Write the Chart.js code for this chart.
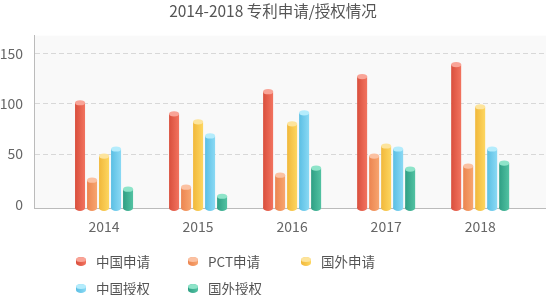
<!DOCTYPE html>
<html>
<head>
<meta charset="utf-8">
<script src="https://cdn.jsdelivr.net/npm/chart.js@4/dist/chart.umd.min.js"></script>
<style>
  html, body { margin: 0; padding: 0; background: #fff; }
  #wrap { position: relative; width: 546px; height: 295px; }
  #chart { position: absolute; left: 0; top: 0; }
  .legend { position: absolute; left: 0; top: 0; width: 546px; height: 295px; pointer-events: none;
            font-family: "Noto Sans CJK SC", "Noto Sans", sans-serif; font-size: 13.5px; color: #555; }
  .item { position: absolute; height: 18px; line-height: 18px; white-space: nowrap; }
  .icon { position: absolute; left: 0; top: 5px; width: 10px; height: 9px; border-radius: 5px / 3px; }
  .cap { position: absolute; left: 0; top: 0; width: 10px; height: 5px; border-radius: 50%; }
  .label { position: absolute; left: 20px; top: 0; }
</style>
</head>
<body>
<div id="wrap">
  <canvas id="chart" width="546" height="295"></canvas>
  <div class="legend" id="legend"></div>
</div>
<script>
// Years on the category axis
const categories = ['2014', '2015', '2016', '2017', '2018'];

// Patent counts per year
const chinaApply   = [101, 90, 112, 127, 139];
const pctApply     = [24, 17, 29, 48, 38];
const foreignApply = [48, 82, 80, 58, 97];
const chinaGrant   = [55, 68, 91, 55, 55];
const foreignGrant = [15, 8, 36, 35, 41];

const seriesNames = ['中国申请', 'PCT申请', '国外申请', '中国授权', '国外授权'];

// Value axis labels
const yTicks = [0, 50, 100, 150];

// Cylinder shading: [left edge, right edge, top cap]
const palette = [
  ['#d94f3d', '#f2735f', '#f9a497'],
  ['#ec8550', '#f7a56f', '#fbc1a2'],
  ['#f1b83b', '#fdd660', '#fde49c'],
  ['#5bbfe4', '#8ad9f4', '#b4ecfc'],
  ['#2f9f84', '#52c2a2', '#8ee4c9']
];

const seriesValues = [chinaApply, pctApply, foreignApply, chinaGrant, foreignGrant];

const datasets = seriesValues.map((vals, s) => ({
  label: seriesNames[s],
  data: vals.map((v, i) => ({ x: i, y: v })),
  backgroundColor: 'rgba(0,0,0,0)',
  borderWidth: 0,
  categoryPercentage: 60 / 94,
  barPercentage: 10 / 12
}));

// Light panel behind the plot
const panelPlugin = {
  id: 'panel',
  beforeDraw(chart) {
    const { ctx, chartArea: a } = chart;
    ctx.save();
    ctx.fillStyle = '#f9f9f9';
    ctx.fillRect(a.left, a.top, a.right - a.left, a.bottom - a.top);
    ctx.restore();
  }
};

// Paints each bar as a shaded cylinder with an elliptical top and bottom
const cylinderPlugin = {
  id: 'cylinders',
  afterDatasetsDraw(chart) {
    const { ctx, chartArea } = chart;
    const base = chartArea.bottom;
    chart.data.datasets.forEach((ds, s) => {
      const meta = chart.getDatasetMeta(s);
      const [c0, c1, cap] = palette[s];
      meta.data.forEach(el => {
        const hw = el.width / 2;
        const cx = el.x;
        const top = el.y;
        const g = ctx.createLinearGradient(cx - hw, 0, cx + hw, 0);
        g.addColorStop(0, c0);
        g.addColorStop(1, c1);
        ctx.save();
        ctx.fillStyle = g;
        ctx.beginPath();
        ctx.ellipse(cx, base, hw, 3, 0, 0, Math.PI * 2);
        ctx.fill();
        ctx.fillRect(cx - hw, top, hw * 2, base - top);
        ctx.fillStyle = cap;
        ctx.beginPath();
        ctx.ellipse(cx, top, hw, 2.6, 0, 0, Math.PI * 2);
        ctx.fill();
        ctx.restore();
      });
    });
  }
};

new Chart(document.getElementById('chart'), {
  type: 'bar',
  data: { datasets },
  plugins: [panelPlugin, cylinderPlugin],
  options: {
    responsive: false,
    animation: false,
    devicePixelRatio: 1,
    layout: { padding: { left: 0, right: 0, top: 0, bottom: 0 } },
    plugins: {
      legend: { display: false },
      tooltip: { enabled: false },
      title: {
        display: true,
        text: '2014-2018 专利申请/授权情况',
        color: '#555',
        font: { family: '"Noto Sans CJK SC", sans-serif', size: 15.5, weight: 'normal', lineHeight: 1.2 },
        padding: { top: 2, bottom: 15 }
      }
    },
    scales: {
      x: {
        type: 'linear',
        min: -0.745,
        max: 4.70,
        offset: false,
        grid: { display: false, drawTicks: false },
        border: { display: true, color: '#bbb', width: 1 },
        afterBuildTicks(scale) { scale.ticks = categories.map((_, i) => ({ value: i })); },
        afterFit(scale) { scale.height = 87; },
        ticks: {
          color: '#666',
          padding: 10,
          autoSkip: false,
          maxRotation: 0,
          font: { family: '"Noto Sans CJK SC", sans-serif', size: 14 },
          callback: v => categories[v] ?? ''
        }
      },
      y: {
        min: -3.7,
        max: 167.8,
        grid: {
          drawTicks: false,
          color: c => (c.tick && c.tick.value === 0 ? 'rgba(0,0,0,0)' : '#d8d8d8')
        },
        border: { display: true, color: '#bbb', width: 1, dash: [5, 3] },
        afterBuildTicks(scale) { scale.ticks = yTicks.map(v => ({ value: v })); },
        afterFit(scale) { scale.width = 34; },
        ticks: {
          color: '#666',
          padding: 11,
          font: { family: '"Noto Sans CJK SC", sans-serif', size: 14 }
        }
      }
    }
  }
});

// Legend laid out in a fixed three-column grid
const legend = document.getElementById('legend');
const colX = [76, 188, 301];
const rowY = [252, 279];
seriesNames.forEach((name, s) => {
  const item = document.createElement('div');
  item.className = 'item';
  item.style.left = colX[s % 3] + 'px';
  item.style.top = rowY[Math.floor(s / 3)] + 'px';
  const icon = document.createElement('div');
  icon.className = 'icon';
  icon.style.background = `linear-gradient(to right, ${palette[s][0]}, ${palette[s][1]})`;
  const cap = document.createElement('div');
  cap.className = 'cap';
  cap.style.background = palette[s][2];
  icon.appendChild(cap);
  const label = document.createElement('span');
  label.className = 'label';
  label.textContent = name;
  item.appendChild(icon);
  item.appendChild(label);
  legend.appendChild(item);
});
</script>
</body>
</html>
